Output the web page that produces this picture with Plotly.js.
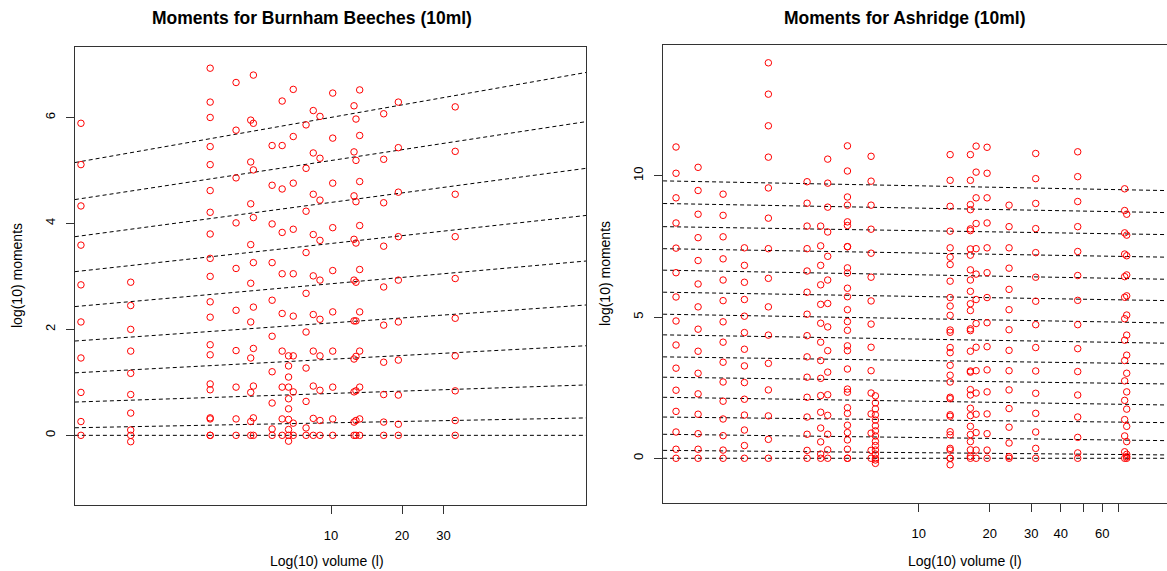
<!DOCTYPE html>
<html>
<head>
<meta charset="utf-8">
<script src="https://cdn.plot.ly/plotly-3.0.1.min.js"></script>
<style>
html, body { margin: 0; padding: 0; overflow: hidden; background: #fff; }
#chart { width: 1240px; height: 571px; }
</style>
</head>
<body>
<div id="chart"></div>
<script>
// ---------------- DATA ----------------
// Burnham Beeches: sample volumes (l) and log10 moments per sample
const bbVolumes = [0.872, 1.417, 3.076, 3.96, 4.57, 4.69, 5.63, 6.21, 6.61, 6.92,
  7.84, 8.41, 8.98, 10.17, 12.52, 12.76, 13.23, 16.72, 19.29, 33.6];
const bbMoments = [
  [0, 0.26, 0.81, 1.46, 2.14, 2.84, 3.59, 4.33, 5.11, 5.89],
  [-0.12, 0, 0.10, 0.42, 0.77, 1.17, 1.59, 2.00, 2.45, 2.89],
  [0, 0, 0.31, 0.33, 0.86, 0.97, 1.52, 1.71, 2.23, 2.52, 3.00, 3.34, 3.80, 4.21, 4.62, 5.11, 5.45, 6.00, 6.29, 6.93],
  [0, 0.31, 0.91, 1.60, 2.36, 3.15, 4.01, 4.86, 5.76, 6.66],
  [0, 0.26, 0.81, 1.46, 2.14, 2.87, 3.60, 4.37, 5.16, 5.95],
  [0, 0.33, 0.93, 1.64, 2.42, 3.26, 4.11, 5.01, 5.89, 6.80],
  [0, 0.12, 0.61, 1.20, 1.87, 2.55, 3.26, 3.99, 4.72, 5.47],
  [0, 0.31, 0.91, 1.59, 2.30, 3.05, 3.83, 4.65, 5.47, 6.31],
  [-0.11, 0, 0.11, 0.30, 0.50, 0.69, 0.91, 1.10, 1.31, 1.50],
  [0, 0.23, 0.82, 1.50, 2.25, 3.05, 3.89, 4.76, 5.64, 6.53],
  [0, 0.14, 0.64, 1.27, 1.95, 2.68, 3.45, 4.23, 5.04, 5.86],
  [0, 0.32, 0.93, 1.59, 2.28, 3.01, 3.79, 4.55, 5.33, 6.13],
  [0, 0.28, 0.85, 1.50, 2.19, 2.93, 3.68, 4.44, 5.23, 6.02],
  [0, 0.31, 0.91, 1.59, 2.33, 3.11, 3.92, 4.76, 5.61, 6.46],
  [0, 0.25, 0.82, 1.44, 2.16, 2.93, 3.70, 4.52, 5.35, 6.22],
  [0, 0.28, 0.84, 1.49, 2.16, 2.89, 3.63, 4.41, 5.19, 5.97],
  [0, 0.31, 0.91, 1.59, 2.33, 3.13, 3.96, 4.79, 5.66, 6.52],
  [0, 0.25, 0.77, 1.38, 2.08, 2.80, 3.57, 4.39, 5.21, 6.07],
  [0, 0.21, 0.76, 1.42, 2.14, 2.93, 3.75, 4.59, 5.43, 6.29],
  [0, 0.28, 0.84, 1.50, 2.21, 2.96, 3.75, 4.55, 5.36, 6.20]
];
// fitted lines: log10 moment = a + b*log10(volume)
const bbFitIntercept = [0, 0.150, 0.641, 1.200, 1.807, 2.464, 3.131, 3.800, 4.508, 5.216];
const bbFitSlope     = [0, 0.086, 0.149, 0.236, 0.314, 0.397, 0.490, 0.596, 0.679, 0.785];
const bbFitVolumes = [0.822, 120.4];

// Ashridge
const asVolumes = [0.937, 1.162, 1.483, 1.826, 2.307, 3.366, 3.843, 4.116, 4.99, 6.285, 6.555,
  13.59, 16.56, 17.51, 19.49, 24.15, 31.32, 47.18, 74.6, 76.1];
const asMoments = [
  [0, 0.32, 0.93, 1.66, 2.41, 3.19, 4.01, 4.86, 5.71, 6.57, 7.44, 8.33, 9.22, 10.09, 11.02],
  [0, 0.32, 0.87, 1.56, 2.28, 3.01, 3.79, 4.57, 5.36, 6.17, 7.00, 7.81, 8.64, 9.48, 10.30],
  [0, 0.29, 0.80, 1.39, 2.02, 2.70, 3.40, 4.11, 4.83, 5.58, 6.31, 7.06, 7.84, 8.60, 9.35],
  [0, 0.45, 1.00, 1.53, 2.09, 2.68, 3.27, 3.86, 4.45, 5.03, 5.62, 6.23, 6.83, 7.45],
  [0, 0.67, 1.50, 2.42, 3.36, 4.36, 5.36, 6.37, 7.42, 8.50, 9.57, 10.66, 11.77, 12.89, 14.0],
  [0, 0.28, 0.85, 1.46, 2.16, 2.87, 3.59, 4.34, 5.10, 5.88, 6.63, 7.42, 8.22, 9.03, 9.79],
  [0, 0.15, 0.58, 1.07, 1.63, 2.22, 2.83, 3.46, 4.11, 4.78, 5.45, 6.14, 6.83, 7.52, 8.22],
  [0, 0.30, 0.85, 1.52, 2.25, 3.05, 3.81, 4.65, 5.48, 6.31, 7.15, 8.01, 8.89, 9.74, 10.59],
  [0, 0, 0.32, 0.65, 0.91, 1.17, 1.59, 1.79, 2.34, 2.45, 3.16, 3.81, 3.98, 4.53, 4.84, 5.26, 5.72, 6.02, 6.56, 6.74, 7.49, 7.49, 8.24, 8.37, 8.96, 9.25, 10.17, 11.06],
  [0, 0.28, 0.89, 1.57, 2.31, 3.10, 3.93, 4.75, 5.57, 6.41, 7.26, 8.11, 8.96, 9.81, 10.69],
  [-0.18, -0.06, 0, 0.15, 0.29, 0.45, 0.60, 0.79, 0.97, 1.15, 1.35, 1.54, 1.75, 1.96, 2.21],
  [-0.23, 0, 0, 0.29, 0.35, 0.83, 0.94, 1.49, 1.54, 2.11, 2.16, 2.70, 2.94, 3.29, 3.74, 3.92, 4.46, 4.54, 5.06, 5.39, 5.69, 6.27, 6.86, 7.12, 7.45, 8.04, 8.92, 9.84, 10.75],
  [0, 0.07, 0.30, 0.59, 0.84, 1.13, 1.51, 1.77, 2.24, 2.43, 3.05, 3.09, 3.79, 4.52, 4.58, 5.23, 5.47, 5.91, 6.31, 6.67, 7.19, 7.41, 8.06, 8.12, 8.80, 8.98, 9.84, 10.75],
  [0, 0.29, 0.91, 1.56, 2.31, 3.10, 3.93, 4.77, 5.62, 6.52, 7.42, 8.31, 9.22, 10.13, 11.05],
  [0, 0.29, 0.87, 1.57, 2.35, 3.13, 3.95, 4.80, 5.69, 6.57, 7.45, 8.33, 9.22, 10.09, 11.01],
  [0, 0.06, 0.54, 1.10, 1.76, 2.42, 3.10, 3.82, 4.55, 5.26, 5.98, 6.73, 7.45, 8.20, 8.96],
  [0, 0.35, 0.93, 1.59, 2.30, 3.09, 3.92, 4.73, 5.56, 6.41, 7.28, 8.13, 9.02, 9.90, 10.79],
  [0, 0.19, 0.74, 1.46, 2.24, 3.07, 3.88, 4.73, 5.59, 6.47, 7.32, 8.20, 9.09, 9.97, 10.85],
  [0, 0.23, 0.79, 1.37, 2.05, 2.74, 3.46, 4.18, 4.94, 5.70, 6.43, 7.23, 7.98, 8.77, 9.54],
  [0, 0.06, 0.14, 0.59, 1.13, 1.74, 2.35, 3.01, 3.65, 4.36, 5.07, 5.75, 6.49, 7.17, 7.90, 8.64]
];
const asFitIntercept = [0, 0.274, 0.841, 1.452, 2.149, 2.861, 3.580, 4.358, 5.088, 5.868, 6.647, 7.408, 8.189, 9.007, 9.807];
const asFitSlope     = [0, -0.076, -0.106, -0.093, -0.128, -0.112, -0.117, -0.139, -0.145, -0.140, -0.151, -0.141, -0.132, -0.151, -0.161];
const asFitVolumes = [0.826, 120.8];

const bbXTicks = [10, 20, 30];
const bbXTickText = ['10', '20', '30'];
const asXTicks = [10, 20, 30, 40, 50, 60, 70];
const asXTickText = ['10', '20', '30', '40', '', '60', ''];
const bbYTicks = [0, 2, 4, 6];
const asYTicks = [0, 5, 10];

// ---------------- BUILD ----------------
function pointsTrace(vols, moms, xa, ya) {
  const x = [], y = [];
  vols.forEach((v, i) => moms[i].forEach(m => { x.push(v); y.push(m); }));
  return { x, y, xaxis: xa, yaxis: ya, type: 'scatter', mode: 'markers',
    marker: { symbol: 'circle-open', size: 6.5, color: '#ff0000', line: { width: 1, color: '#ff0000' } },
    hoverinfo: 'skip', showlegend: false };
}
function fitTrace(a, b, vr, xa, ya) {
  const x = [], y = [];
  a.forEach((ai, i) => {
    vr.forEach(v => { x.push(v); y.push(ai + b[i] * Math.log10(v)); });
    x.push(null); y.push(null);
  });
  return { x, y, xaxis: xa, yaxis: ya, type: 'scatter', mode: 'lines',
    line: { color: '#000', width: 1, dash: '4px,3px' }, connectgaps: false,
    hoverinfo: 'skip', showlegend: false };
}

const W = 1240, H = 571;
const px = v => v / W, py = v => (H - v) / H;
const tickFont = { family: 'Liberation Sans, Arial, sans-serif', size: 13, color: '#000' };
const labFont = { family: 'Liberation Sans, Arial, sans-serif', size: 14, color: '#000' };
const titleFont = { family: 'Liberation Sans, Arial, sans-serif', size: 17.5, color: '#000' };

function xAxis(domain, tv, tt) {
  return { type: 'log', domain, range: [-0.0847, 2.0805], tickvals: tv, ticktext: tt,
    ticks: 'outside', ticklen: 8, tickcolor: '#333', tickwidth: 1, tickfont: tickFont,
    ticklabelstandoff: 10, showgrid: false, zeroline: false, showline: true, mirror: true,
    linecolor: '#333', linewidth: 1, fixedrange: true };
}
function yAxis(domain, range, tv, anchor) {
  return { domain, range, tickvals: tv, ticks: 'outside', ticklen: 8, tickcolor: '#333',
    tickwidth: 1, tickfont: tickFont, tickangle: -90, ticklabelstandoff: 6, anchor,
    showgrid: false, zeroline: false, showline: true, mirror: true, linecolor: '#333',
    linewidth: 1, fixedrange: true };
}

const data = [
  fitTrace(bbFitIntercept, bbFitSlope, bbFitVolumes, 'x', 'y'),
  pointsTrace(bbVolumes, bbMoments, 'x', 'y'),
  fitTrace(asFitIntercept, asFitSlope, asFitVolumes, 'x2', 'y2'),
  pointsTrace(asVolumes, asMoments, 'x2', 'y2')
];

const layout = {
  width: W, height: H, margin: { l: 0, r: 0, t: 0, b: 0 },
  paper_bgcolor: '#fff', plot_bgcolor: '#fff', showlegend: false,
  xaxis: Object.assign(xAxis([px(75), px(586)], bbXTicks, bbXTickText), { anchor: 'y' }),
  yaxis: yAxis([py(505), py(47)], [-1.315, 7.33], bbYTicks, 'x'),
  xaxis2: Object.assign(xAxis([px(662.7), px(1173.7)], asXTicks, asXTickText), { anchor: 'y2' }),
  yaxis2: yAxis([py(503.3), py(45.3)], [-1.594, 14.62], asYTicks, 'x2'),
  annotations: [
    { text: '<b>Moments for Burnham Beeches (10ml)</b>', x: px(312), y: py(18), xref: 'paper', yref: 'paper',
      showarrow: false, xanchor: 'center', yanchor: 'middle', font: titleFont },
    { text: '<b>Moments for Ashridge (10ml)</b>', x: px(904), y: py(18), xref: 'paper', yref: 'paper',
      showarrow: false, xanchor: 'center', yanchor: 'middle', font: titleFont },
    { text: 'Log(10) volume (l)', x: px(327), y: py(561), xref: 'paper', yref: 'paper',
      showarrow: false, xanchor: 'center', yanchor: 'middle', font: labFont },
    { text: 'Log(10) volume (l)', x: px(965), y: py(561), xref: 'paper', yref: 'paper',
      showarrow: false, xanchor: 'center', yanchor: 'middle', font: labFont },
    { text: 'log(10) moments', x: px(17), y: py(276), xref: 'paper', yref: 'paper', textangle: -90,
      showarrow: false, xanchor: 'center', yanchor: 'middle', font: labFont },
    { text: 'log(10) moments', x: px(605), y: py(274), xref: 'paper', yref: 'paper', textangle: -90,
      showarrow: false, xanchor: 'center', yanchor: 'middle', font: labFont }
  ]
};

Plotly.newPlot('chart', data, layout, { staticPlot: true, displayModeBar: false });
</script>
</body>
</html>
